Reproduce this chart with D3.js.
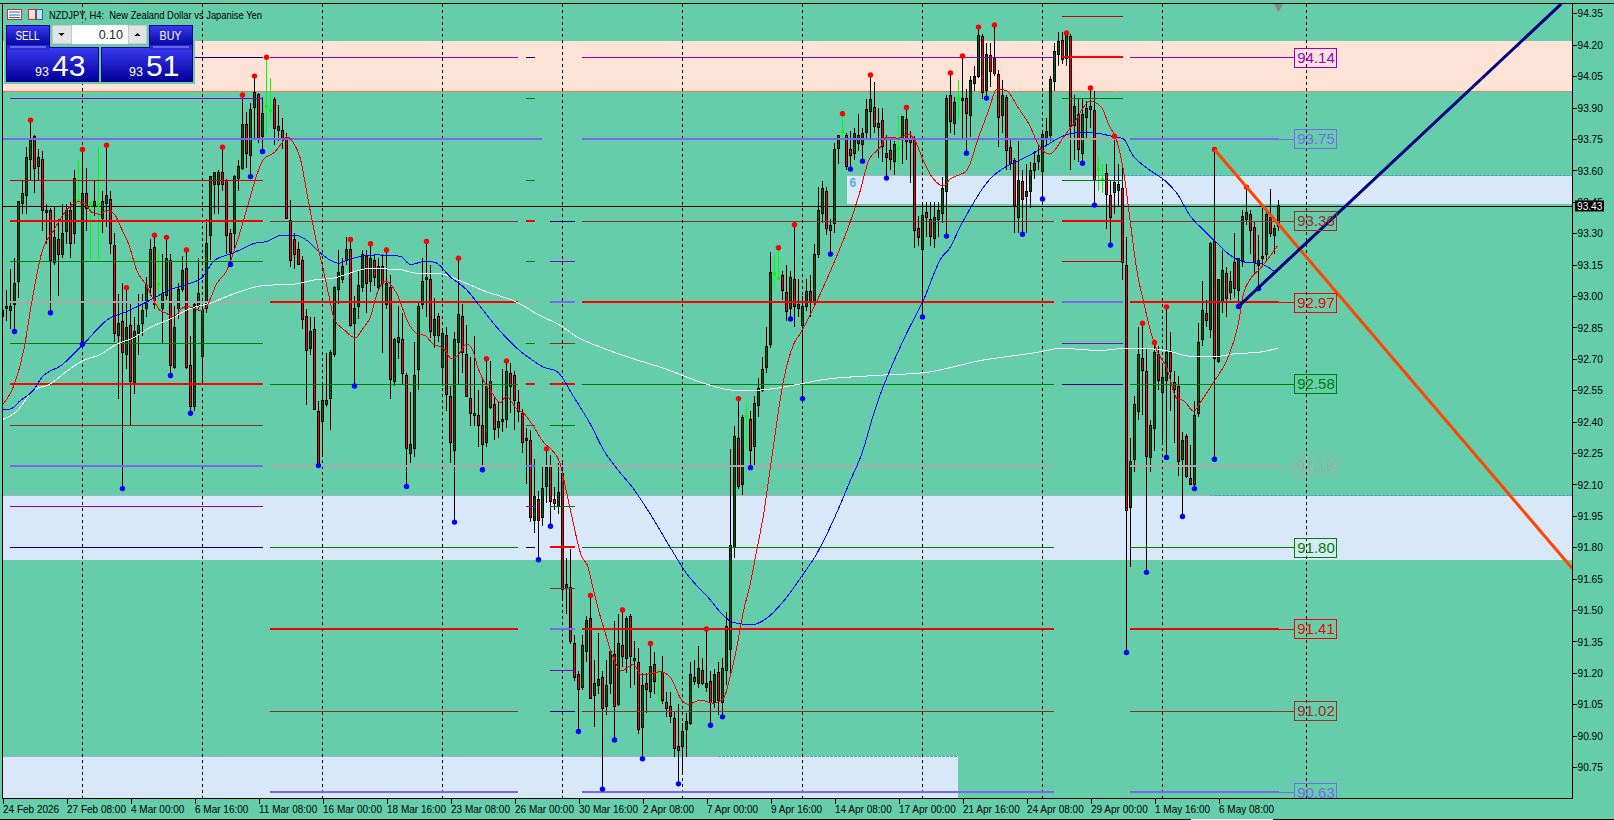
<!DOCTYPE html>
<html><head><meta charset="utf-8"><script src="https://cdn.jsdelivr.net/npm/d3@7"></script>
<style>html,body{margin:0;padding:0;background:#66cdaa;overflow:hidden}svg{display:block}text{font-family:"Liberation Sans",Arial,sans-serif}</style>
</head><body><svg id="c" width="1614" height="820"></svg><script>
const opens=[92.90,92.94,92.93,92.96,93.07,93.44,93.48,93.65,93.76,93.62,93.65,93.40,93.41,93.16,93.27,93.20,93.31,93.41,93.30,93.45,92.78,93.49,93.43,93.43,93.43,93.37,93.44,93.46,93.24,92.81,92.88,92.72,92.86,92.58,92.82,92.87,92.94,93.04,93.23,93.05,92.94,93.00,93.17,92.66,92.94,93.03,93.13,92.67,92.47,92.95,92.71,92.94,93.29,93.53,93.53,93.59,93.55,93.30,93.30,93.56,93.61,93.82,93.67,93.90,93.96,93.76,93.90,93.88,93.94,93.79,93.79,93.75,93.36,93.27,93.22,93.17,92.90,92.75,92.84,92.45,92.40,92.48,92.51,92.72,93.03,93.08,93.17,93.22,92.87,92.95,93.04,93.19,93.07,93.17,93.04,93.14,92.96,93.04,92.59,92.78,
92.79,92.62,92.25,92.27,92.65,92.96,93.08,93.08,92.81,92.90,92.66,92.81,92.52,92.26,92.78,92.90,92.72,92.51,92.43,92.43,92.38,92.30,92.59,92.48,92.37,92.40,92.41,92.63,92.62,92.49,92.44,92.31,92.31,91.93,92.03,91.94,92.09,92.19,92.03,92.00,92.15,91.605,91.61,91.34,91.19,91.13,91.30,91.46,91.09,91.14,91.18,91.04,91.15,91.29,91.05,91.33,91.27,91.47,91.27,91.25,90.94,91.15,91.11,91.24,91.20,91.20,91.06,91.04,90.98,90.85,90.85,90.93,90.96,91.18,91.15,91.21,91.13,91.16,91.06,91.20,91.06,91.21,91.31,91.80,92.32,92.10,92.42,92.41,92.28,92.475,92.55,92.66,92.77,93.10,93.08,93.10,93.017,92.94,93.08,92.94,
92.86,92.95,93.02,92.98,93.20,93.395,93.50,93.315,93.345,93.705,93.78,93.765,93.70,93.68,93.765,93.725,93.78,93.88,93.90,93.805,93.837,93.66,93.696,93.64,93.70,93.754,93.845,93.754,93.754,93.32,93.22,93.397,93.367,93.275,93.367,93.395,93.50,93.956,93.824,93.94,93.945,93.945,93.86,94.015,94.05,94.238,93.98,94.147,94.134,94.056,93.86,93.948,93.708,93.646,93.375,93.545,93.475,93.50,93.60,93.64,93.593,93.745,93.765,94.025,94.152,94.222,94.136,94.238,93.813,93.869,93.68,93.853,93.904,93.885,93.60,93.55,93.587,93.478,93.494,93.505,93.515,93.147,91.99,92.22,92.447,92.70,92.64,92.227,92.366,92.72,92.538,92.595,92.73,92.586,92.57,92.22,92.33,92.13,92.10,92.44,
92.79,92.916,92.84,93.26,92.685,92.97,93.107,93.015,93.16,93.025,93.17,93.367,93.39,93.327,93.144,93.18,93.198,93.375,93.287,93.33];
const highs=[92.95,93.03,93.13,93.18,93.45,93.55,93.71,93.84,93.77,93.70,93.69,93.44,93.42,93.43,93.37,93.44,93.44,93.45,93.60,93.65,93.70,93.61,93.45,93.55,93.71,93.50,93.72,93.50,93.30,93.01,93.06,93.04,92.96,92.90,93.01,93.01,93.09,93.27,93.29,93.22,93.20,93.28,93.20,92.95,93.06,93.19,93.22,92.81,92.97,93.18,92.95,93.37,93.57,93.59,93.60,93.71,93.56,93.32,93.58,93.65,93.96,93.88,93.92,94.05,93.97,93.95,94.14,94.04,93.95,93.91,93.85,93.78,93.46,93.30,93.26,93.19,92.94,92.90,92.90,92.50,92.59,92.73,92.74,93.05,93.22,93.18,93.28,93.27,93.00,93.12,93.22,93.22,93.25,93.20,93.18,93.20,93.22,93.10,92.80,92.95,
92.92,92.63,92.54,92.78,92.97,93.18,93.26,93.15,92.99,92.92,92.84,92.85,92.57,92.83,93.18,92.96,92.86,92.71,92.81,92.55,92.61,92.70,92.69,92.52,92.50,92.65,92.69,92.68,92.64,92.55,92.46,92.37,92.36,92.22,92.07,92.19,92.27,92.24,92.09,92.20,92.20,91.75,91.79,91.38,91.21,91.38,91.47,91.57,91.26,91.39,91.21,91.26,91.31,91.45,91.48,91.50,91.47,91.48,91.35,91.32,91.20,91.20,91.34,91.30,91.21,91.28,91.11,91.11,91.02,91.05,90.96,91.01,91.25,91.26,91.33,91.27,91.41,91.21,91.22,91.25,91.27,91.49,92.27,92.38,92.51,92.43,92.49,92.45,92.52,92.61,92.71,92.85,93.21,93.20,93.23,93.12,93.15,93.12,93.34,93.08,
93.00,93.08,93.10,93.25,93.52,93.55,93.52,93.37,93.73,93.77,93.87,93.78,93.79,93.80,93.87,93.80,93.94,94.055,94.02,93.90,93.90,93.77,93.75,93.74,93.865,93.856,93.90,93.79,93.765,93.38,93.45,93.45,93.45,93.45,93.45,93.57,93.96,94.065,93.95,94.03,94.146,93.99,94.05,94.10,94.284,94.25,94.21,94.21,94.294,94.08,94.03,93.96,93.75,93.66,93.74,93.60,93.63,93.64,93.69,93.72,93.78,93.85,94.05,94.21,94.26,94.26,94.256,94.25,93.96,93.94,93.94,93.93,93.993,93.98,93.67,93.63,93.63,93.55,93.763,93.63,93.62,93.283,92.32,92.52,92.85,92.87,92.75,92.41,92.778,92.76,92.68,92.948,92.83,92.64,92.62,92.35,92.34,92.29,92.50,92.87,
93.07,92.98,93.26,93.70,93.08,93.22,93.14,93.12,93.30,93.18,93.41,93.52,93.41,93.36,93.29,93.42,93.40,93.51,93.34,93.46];
const lows=[92.78,92.88,92.84,92.83,92.99,93.39,93.39,93.55,93.49,93.55,93.31,93.25,92.92,93.15,93.00,93.18,93.25,93.18,93.25,93.45,92.77,93.31,93.16,93.38,93.16,93.30,93.33,93.20,92.78,92.51,92.08,92.65,92.38,92.53,92.72,92.81,92.90,93.00,92.94,92.93,92.77,92.98,92.62,92.65,92.89,93.02,92.65,92.44,92.45,92.93,92.59,92.92,93.17,93.39,93.39,93.50,93.20,93.15,93.22,93.50,93.60,93.61,93.57,93.75,93.73,93.69,93.77,93.84,93.72,93.74,93.70,93.37,93.14,93.13,93.15,92.84,92.48,92.72,92.46,92.19,92.24,92.47,92.36,92.71,92.96,93.06,93.15,92.85,92.57,92.89,93.02,92.92,93.02,93.05,93.03,92.73,92.94,92.51,92.57,92.70,
92.58,92.09,92.20,92.23,92.55,92.94,92.90,92.80,92.75,92.78,92.57,92.45,92.20,91.92,92.58,92.63,92.52,92.38,92.38,92.28,92.17,92.28,92.46,92.31,92.32,92.35,92.37,92.44,92.36,92.40,92.25,92.10,91.92,91.87,91.74,91.90,92.01,91.90,91.98,91.96,91.55,91.48,91.34,91.16,90.92,91.12,91.25,91.08,90.94,91.10,90.645,91.00,91.10,90.88,91.04,91.23,91.20,91.13,91.14,90.91,90.79,91.01,91.08,91.10,91.06,91.05,90.99,90.96,90.80,90.67,90.71,90.80,90.95,91.14,91.13,91.14,91.11,90.95,91.03,91.00,90.99,91.14,91.18,91.75,92.08,92.05,92.27,92.18,92.19,92.42,92.54,92.63,92.75,93.03,93.08,92.98,92.88,92.89,92.85,92.90,
92.51,92.93,92.90,92.95,93.18,93.35,93.29,93.20,93.30,93.63,93.75,93.60,93.606,93.65,93.69,93.644,93.75,93.75,93.78,93.66,93.64,93.563,93.60,93.58,93.62,93.63,93.65,93.54,93.23,93.24,92.90,93.28,93.24,93.23,93.28,93.35,93.286,93.78,93.77,93.85,93.75,93.682,93.76,93.98,94.04,93.94,93.945,94.0,94.05,93.71,93.78,93.60,93.60,93.30,93.30,93.295,93.30,93.42,93.56,93.60,93.463,93.72,93.74,93.98,94.10,94.11,94.10,93.60,93.65,93.64,93.634,93.75,93.80,93.434,93.50,93.49,93.32,93.243,93.39,93.43,93.076,91.297,91.707,92.16,92.41,92.43,91.68,92.16,92.26,92.55,92.30,92.229,92.45,92.30,92.14,91.947,92.13,92.10,92.08,92.42,
92.76,92.85,92.80,92.22,92.68,92.92,92.90,92.98,92.99,92.95,93.14,93.34,93.20,93.10,93.036,93.15,93.16,93.28,93.20,93.31];
const closes=[92.93,92.95,92.95,93.06,93.45,93.49,93.66,93.75,93.61,93.66,93.41,93.41,93.17,93.28,93.20,93.30,93.41,93.25,93.56,93.46,93.49,93.42,93.44,93.45,93.44,93.45,93.48,93.25,92.82,92.87,92.73,92.85,92.59,92.83,92.86,92.93,93.05,93.22,92.96,93.06,93.01,93.18,92.67,92.85,93.03,93.12,92.66,92.47,92.96,93.01,92.93,93.25,93.57,93.59,93.59,93.53,93.29,93.21,93.57,93.62,93.82,93.68,93.89,93.97,93.75,93.87,93.91,93.89,93.80,93.81,93.75,93.37,93.17,93.20,93.15,92.89,92.74,92.83,92.46,92.19,92.50,92.50,92.73,93.04,93.11,93.14,93.22,92.86,92.94,93.05,93.20,93.06,93.18,93.09,93.14,93.06,93.06,92.60,92.79,92.80,
92.63,92.27,92.29,92.62,92.95,93.07,93.09,92.83,92.89,92.81,92.82,92.53,92.30,92.79,92.91,92.73,92.52,92.44,92.44,92.38,92.29,92.57,92.465,92.36,92.40,92.41,92.64,92.57,92.50,92.45,92.30,92.32,91.94,92.04,91.93,92.08,92.18,92.02,92.01,92.06,91.60,91.62,91.35,91.18,91.12,91.33,91.45,91.08,91.15,91.17,91.03,91.14,91.30,91.04,91.34,91.28,91.46,91.28,91.26,90.93,91.14,91.12,91.23,91.16,91.21,91.07,91.03,90.99,90.84,90.83,90.92,90.97,91.19,91.16,91.22,91.15,91.15,91.06,91.19,91.07,91.22,91.42,91.81,92.33,92.09,92.42,92.43,92.26,92.485,92.56,92.65,92.76,93.11,93.11,93.09,93.025,92.925,93.09,92.95,92.96,
92.95,93.02,92.98,93.20,93.41,93.515,93.32,93.335,93.70,93.765,93.79,93.62,93.67,93.775,93.73,93.775,93.89,93.937,93.81,93.825,93.712,93.68,93.654,93.725,93.71,93.856,93.737,93.733,93.314,93.28,93.385,93.375,93.283,93.375,93.407,93.515,93.945,93.834,93.926,93.95,93.932,93.87,94.028,94.047,94.246,93.972,94.155,94.072,94.063,93.853,93.956,93.697,93.633,93.434,93.553,93.46,93.498,93.598,93.635,93.673,93.773,93.785,94.036,94.166,94.214,94.127,94.25,93.808,93.904,93.70,93.869,93.893,93.89,93.55,93.61,93.56,93.486,93.375,93.542,93.534,93.16,91.977,92.21,92.48,92.72,92.646,92.235,92.38,92.73,92.595,92.61,92.73,92.638,92.554,92.208,92.312,92.137,92.10,92.43,92.78,
92.93,92.885,93.25,92.70,93.08,93.12,92.988,93.07,93.036,93.18,93.38,93.40,93.315,93.16,93.17,93.19,93.39,93.30,93.32,93.43];
const limeBars=[19,22,24,39,66,67,164,186,193,194,210,224,239,274,275];
const redDots=[7,20,26,31,38,41,46,55,60,63,66,87,92,96,106,114,121,126,136,147,155,162,176,184,194,198,210,217,226,237,240,244,248,266,272,278,285,288,291,303,311];
const blueDots=[3,12,20,30,42,47,57,62,65,79,88,101,113,120,134,137,144,150,153,160,169,177,180,187,197,200,207,212,215,221,230,236,241,246,255,260,270,273,277,281,286,291,295,298,303,309,314];
const separators=[20,50,80,110,140,170,200,230,260,290,326];
const maRedX=[0,3,5.3,7.4,10,12.7,15.2,17,19,20.7,22.3,24.4,26,28,29.8,31.5,33.6,36,37.8,39.4,40.7,42.7,44.8,46,48,49.8,51,53.6,56,58,59.8,61.9,63.6,65.2,68.2,69.8,71,72.8,74.4,76.5,78.6,79.8,81.5,83,85.3,88.2,90.3,92,93.6,96,98.6,101.5,103.6,105.7,107.7,110.2,112.3,114,116,117.3,119,120.7,122.3,124.4,126,128.6,130.3,132.8,135.3,137.3,139.4,140.7,142.3,144.8,146.3,147.7,149,150.7,152.3,154.8,157.7,159.8,161.5,164.4,166.9,169.8,171.5,174.4,177.75,180.3,181.9,183.6,185.3,187,188.6,190.3,192,195.3,197.8,199.4,209.2,211.5,214.4,216.5,219.4,221,224,226.5,228.2,230.2,232.7,235.2,236.9,241,244,246.5,248.6,251,253.9,256.9,258.9,261.8,265.2,267.7,271.9,274.8,276.5,278.6,280.25,281.9,283.6,285.3,286.9,288.6,291,293.6,295.3,297.8,299.4,302.7,306.1,309,310.25,311.9,314.4,316.1,318.75];
const maRedY=[92.48,92.58,92.74,92.98,93.22,93.31,93.39,93.43,93.45,93.44,93.40,93.39,93.41,93.39,93.32,93.25,93.12,93.05,92.98,92.93,92.92,92.90,92.94,92.95,92.94,92.93,92.95,93.06,93.12,93.22,93.33,93.47,93.58,93.65,93.69,93.73,93.76,93.73,93.66,93.45,93.25,93.16,93.01,92.885,92.84,92.80,92.85,92.90,93.01,93.07,93.01,92.87,92.82,92.81,92.77,92.75,92.70,92.72,92.77,92.75,92.65,92.58,92.54,92.49,92.52,92.46,92.44,92.375,92.30,92.265,92.20,92.09,91.95,91.755,91.71,91.60,91.50,91.39,91.29,91.21,91.24,91.19,91.195,91.205,91.18,91.07,91.05,91.07,91.055,91.08,91.18,91.325,91.50,91.63,91.79,91.96,92.185,92.60,92.77,92.82,93.22,93.33,93.50,93.645,93.71,93.757,93.754,93.773,93.74,93.646,93.56,93.526,93.558,93.598,93.757,93.885,93.988,93.98,93.90,93.81,93.725,93.677,93.757,93.82,93.93,93.90,93.82,93.74,93.60,93.36,93.12,92.97,92.84,92.74,92.66,92.51,92.50,92.45,92.49,92.586,92.694,92.87,93.01,93.08,93.13,93.17,93.24];
const maBlueX=[0,1.9,4.4,7.75,9.8,14.8,19.75,26.5,31,36.9,41.9,46.9,49.75,53,56.9,59.4,62.75,66,69.8,73,76.5,78.6,82,84,86,89.8,93.6,99.4,102,105.7,108.2,112,116,119,123.6,128.6,132.75,135.25,138.6,142.75,146.9,150.4,153.2,157.7,161.9,166.9,171,176.9,179.9,182.75,187.3,191,195.6,199.75,203.6,207.75,212,214.9,218,226,230,235,236.5,239.4,242.3,245.25,247.75,250.25,254.4,259.4,261.9,265.2,269,272.3,276.9,280.25,282.3,286.9,290.7,293.6,297,300.25,303.2,306.9,311,314.4,317.75];
const maBlueY=[92.46,92.46,92.50,92.55,92.61,92.67,92.76,92.89,92.925,92.98,93.03,93.06,93.085,93.17,93.20,93.22,93.25,93.26,93.29,93.29,93.26,93.22,93.17,93.156,93.17,93.19,93.196,93.19,93.15,93.166,93.16,93.09,93.03,92.96,92.85,92.75,92.69,92.66,92.64,92.52,92.39,92.26,92.185,92.08,91.96,91.80,91.675,91.55,91.48,91.44,91.43,91.46,91.55,91.66,91.77,91.93,92.12,92.25,92.45,92.82,92.97,93.19,93.22,93.33,93.43,93.52,93.575,93.61,93.65,93.70,93.73,93.765,93.78,93.78,93.765,93.75,93.68,93.60,93.55,93.49,93.38,93.315,93.26,93.195,93.16,93.155,93.12];
const maWhiteX=[0,3.6,7.75,12,16,20,24.4,28.6,32.75,36.9,41.9,46.9,51.9,57.75,65.25,72.75,78.2,82.75,87,91,99.4,102.8,109.9,114,120.3,128.6,134,139.4,143.6,150.25,157.75,166,174.3,182.75,188.5,193.6,199.4,205,218,231,244,259.4,264.4,274.4,280.7,284.4,290.7,297.75,302.7,308.6,313.6,318.75];
const maWhiteY=[92.41,92.45,92.55,92.58,92.64,92.69,92.72,92.77,92.80,92.85,92.89,92.94,92.965,93.01,93.05,93.056,93.077,93.085,93.11,93.13,93.127,93.11,93.105,93.076,93.025,92.97,92.91,92.86,92.805,92.75,92.70,92.65,92.59,92.55,92.55,92.56,92.58,92.60,92.62,92.635,92.69,92.733,92.75,92.74,92.75,92.75,92.74,92.71,92.71,92.725,92.73,92.75];
const levelPrices=[94.14,93.75,93.36,92.97,92.58,92.19,91.80,91.41,91.02,90.63];
const levelLabelColors=["#9400d3","#7b68ee","#a52a2a","#ff0000","#008000","#a9a9a9","#008000","#ff0000","#a52a2a","#7b68ee"];
const levelStyles={p:["#8a00d0",1],s:["#7b68ee",2],b:["#8b3030",1],r:["#ff0000",2],g:["#008000",1],y:["#a9a9a9",2],n:["#000080",1],d:["#d00000",1]};
const blocks=[
 {x:[0,134.9],rows:[[93.75,"s"]]},
 {x:[1.9,65],rows:[[94.14,"n"],[93.945,"p"],[93.555,"d"],[93.36,"r"],[93.165,"g"],[92.97,"y"],[92.775,"g"],[92.58,"r"],[92.385,"b"],[92.19,"s"],[91.995,"p"],[91.80,"n"]]},
 {x:[66.9,128.9],rows:[[94.14,"p"],[93.36,"b"],[92.97,"r"],[92.58,"g"],[92.19,"y"],[91.80,"g"],[91.41,"r"],[91.02,"b"],[90.63,"s"]]},
 {x:[130.9,133.1],rows:[[94.14,"n"],[93.945,"g"],[93.555,"g"],[93.36,"r"],[93.165,"g"],[92.97,"y"],[92.775,"g"],[92.58,"r"],[92.385,"b"],[92.19,"s"],[91.995,"p"],[91.80,"n"]]},
 {x:[136.9,143.1],rows:[[93.36,"n"],[93.165,"p"],[92.97,"s"],[92.775,"b"],[92.58,"r"],[92.385,"g"],[91.995,"g"],[91.80,"r"],[91.605,"b"],[91.41,"s"],[91.215,"p"],[91.02,"n"]]},
 {x:[134.9,262.9],rows:[[92.19,"y"]]},
 {x:[144.9,262.9],rows:[[94.14,"p"],[93.75,"s"],[93.36,"b"],[92.97,"r"],[92.58,"g"],[91.80,"g"],[91.41,"r"],[91.02,"b"],[90.63,"s"]]},
 {x:[264.9,280.2],rows:[[94.335,"d"],[94.14,"r"],[93.945,"g"],[93.75,"y"],[93.555,"g"],[93.36,"r"],[93.165,"d"],[92.97,"s"],[92.775,"p"],[92.58,"n"]]},
 {x:[281.9,319],rows:[[94.14,"p"],[93.75,"s"],[93.36,"b"],[92.97,"r"],[92.58,"g"],[92.19,"y"],[91.80,"g"],[91.41,"r"],[91.02,"b"],[90.63,"s"]]}
];
const zonePrices=[[94.218,93.977],[93.574,93.44],[92.047,91.739],[90.802,90.60]];
const zoneFrom=[0,211,0,0];
const zoneTo=[392.4,392.4,392.4,238.9];
const zoneDashFrom=[277.5,272,301.8,178.8];
const zoneEdgeColors=["#ff7f50","#4aa3df","#4aa3df","#4aa3df"];
const priceTicks=[94.35,94.20,94.05,93.90,93.75,93.60,93.45,93.30,93.15,93.00,92.85,92.70,92.55,92.40,92.25,92.10,91.95,91.80,91.65,91.50,91.35,91.20,91.05,90.90,90.75];
const timeTicks=d3.range(0,320,16);
const timeLabels=["24 Feb 2026","27 Feb 08:00","4 Mar 00:00","6 Mar 16:00","11 Mar 08:00","16 Mar 00:00","18 Mar 16:00","23 Mar 08:00","26 Mar 00:00","30 Mar 16:00","2 Apr 08:00","7 Apr 00:00","9 Apr 16:00","14 Apr 08:00","17 Apr 00:00","21 Apr 16:00","24 Apr 08:00","29 Apr 00:00","1 May 16:00","6 May 08:00"];
const bid=93.43;
const trendOrange=[[303,93.70],[392.4,91.70]];
const trendNavy=[[309,92.95],[389.7,94.395]];

const W=1614,L=2.5,R=1572.5,T=3.5,B=798.5;
const x=d3.scaleLinear().domain([0,319]).range([2.5,1278.5]);
const y=d3.scaleLinear().domain([94.35,90.75]).range([13.3,767.1]);
const narrow=(sel,f)=>sel.each(function(){const n=this.getComputedTextLength();d3.select(this).attr("textLength",n*f).attr("lengthAdjust","spacingAndGlyphs");});
const svg=d3.select("#c");
const defs=svg.append("defs");
defs.append("clipPath").attr("id","plot").append("rect").attr("x",L).attr("y",T).attr("width",R-L).attr("height",B-T);
const grad=defs.append("linearGradient").attr("id","pbg").attr("x1",0).attr("x2",0).attr("y1",0).attr("y2",1);
grad.append("stop").attr("offset",0).attr("stop-color","#3a3af0");grad.append("stop").attr("offset",1).attr("stop-color","#00009a");
svg.append("rect").attr("width",W).attr("height",820).attr("fill","#66cdaa");
const plot=svg.append("g").attr("clip-path","url(#plot)");

// zones
const zoneFill=["#fde3d6","#d9e8f8","#d9e8f8","#d9e8f8"];
zonePrices.forEach((z,k)=>{
  plot.append("rect").attr("x",x(zoneFrom[k])).attr("y",y(z[0])).attr("width",x(zoneTo[k])-x(zoneFrom[k])).attr("height",y(z[1])-y(z[0])).attr("fill",zoneFill[k]).attr("shape-rendering","crispEdges");
  const ey=k==0?y(z[1]):y(z[0]);
  plot.append("line").attr("x1",x(zoneFrom[k])).attr("x2",x(zoneDashFrom[k])).attr("y1",ey).attr("y2",ey).attr("stroke",k==0?"#f07848":"#9db5c5").attr("stroke-width",1).attr("shape-rendering","crispEdges");
  plot.append("line").attr("x1",x(zoneDashFrom[k])).attr("x2",x(zoneTo[k])).attr("y1",ey).attr("y2",ey).attr("stroke",zoneEdgeColors[k]).attr("stroke-dasharray","3,1").attr("stroke-width",1).attr("shape-rendering","crispEdges");
});
plot.append("text").attr("x",x(211)+3).attr("y",y(93.52)).attr("fill","#5aa9e6").attr("font-size",12).attr("font-weight","bold").text("6");

// session separators
plot.selectAll(".sep").data(separators).join("line").attr("x1",d=>x(d)).attr("x2",d=>x(d)).attr("y1",T).attr("y2",B).attr("stroke","#000").attr("stroke-dasharray","3,3").attr("shape-rendering","crispEdges");

// bid line
plot.append("line").attr("x1",L).attr("x2",R).attr("y1",Math.round(y(bid))+.5).attr("y2",Math.round(y(bid))+.5).attr("stroke","#000");

// candles
const idx=d3.range(opens.length);
const limeSet=new Set(limeBars);
const cg=plot.append("g").attr("shape-rendering","crispEdges");
cg.selectAll(".wick").data(idx).join("line").attr("x1",d=>x(d)).attr("x2",d=>x(d)).attr("y1",d=>y(highs[d])).attr("y2",d=>y(lows[d])).attr("stroke",d=>limeSet.has(d)?"#00ff00":"#000");
cg.selectAll(".body").data(idx).join("rect")
  .attr("x",d=>x(d)-1).attr("width",2)
  .attr("y",d=>y(Math.max(opens[d],closes[d])))
  .attr("height",d=>Math.max(1,Math.abs(y(opens[d])-y(closes[d]))))
  .attr("fill",d=>limeSet.has(d)?"#00ff00":closes[d]>=opens[d]?"#006400":"#ff0000")
  .attr("stroke",d=>limeSet.has(d)?"#00ff00":"#000").attr("stroke-width",1);

// levels
const lg=plot.append("g").attr("shape-rendering","crispEdges");
blocks.forEach(b=>b.rows.forEach(r=>{
  const s=levelStyles[r[1]];
  const ly=s[1]%2?Math.round(y(r[0]))+.5:Math.round(y(r[0]));
  lg.append("line").attr("x1",x(b.x[0])).attr("x2",x(b.x[1])).attr("y1",ly).attr("y2",ly).attr("stroke",s[0]).attr("stroke-width",s[1]);
}));

// moving averages
const line=d3.line().x(d=>x(d[0])).y(d=>y(d[1]));
const smooth=d3.line().curve(d3.curveMonotoneX).x(d=>x(d[0])).y(d=>y(d[1]));
const zipPts=(a,b)=>a.map((v,i)=>[v,b[i]]);
[[maWhiteX,maWhiteY,"#fff"],[maBlueX,maBlueY,"#0000ff"],[maRedX,maRedY,"#ff0000"]].forEach(m=>{
  plot.append("path").attr("d",smooth(zipPts(m[0],m[1]))).attr("fill","none").attr("stroke",m[2]).attr("stroke-width",1).attr("shape-rendering","crispEdges");
});

// fractal dots
plot.selectAll(".rd").data(redDots).join("circle").attr("cx",d=>x(d)).attr("cy",d=>y(highs[d])).attr("r",2.7).attr("fill","#ff0000");
plot.selectAll(".bd").data(blueDots).join("circle").attr("cx",d=>x(d)).attr("cy",d=>y(lows[d])).attr("r",2.7).attr("fill","#0000ff");

// trend lines
plot.append("path").attr("d",line(trendOrange)).attr("stroke","#ff4500").attr("stroke-width",3).attr("fill","none");
plot.append("path").attr("d",line(trendNavy)).attr("stroke","#000080").attr("stroke-width",3).attr("fill","none");

// level labels
const lx=x(319),bx=1294,bw=42,bh=19;
levelPrices.forEach((p,k)=>{
  const c=levelLabelColors[k],py=y(p);
  plot.append("line").attr("x1",lx).attr("x2",bx).attr("y1",Math.round(py)+.5).attr("y2",Math.round(py)+.5).attr("stroke",c).attr("shape-rendering","crispEdges");
  plot.append("rect").attr("x",bx+.5).attr("y",Math.round(py-bh/2)+.5).attr("width",bw).attr("height",bh).attr("fill","none").attr("stroke",c).attr("shape-rendering","crispEdges");
  plot.append("text").attr("x",bx+bw/2+1).attr("y",py+5.5).attr("text-anchor","middle").attr("font-size",15).attr("fill",c).text(p.toFixed(2));
});

// current bar marker
plot.append("path").attr("d",d3.symbol().type(d3.symbolTriangle).size(45)()).attr("transform",`translate(${x(319)},6) rotate(180)`).attr("fill","#888");

// frame + axes
const frame=svg.append("g").attr("shape-rendering","crispEdges");
frame.append("line").attr("x1",0).attr("x2",W).attr("y1",T).attr("y2",T).attr("stroke","#000");
frame.append("line").attr("x1",L).attr("x2",L).attr("y1",T).attr("y2",B).attr("stroke","#000");
frame.append("line").attr("x1",0).attr("x2",W).attr("y1",819.5).attr("y2",819.5).attr("stroke","#000");
frame.append("line").attr("x1",1191).attr("x2",1273).attr("y1",819.5).attr("y2",819.5).attr("stroke","#fff");

const yAxis=d3.axisRight(y).tickValues(priceTicks).tickFormat(d3.format(".2f")).tickSize(4).tickPadding(1);
const ga=svg.append("g").attr("transform",`translate(${R},0)`).call(yAxis);
ga.select(".domain").attr("d",`M0,${T}V${B}`).attr("stroke","#000").attr("shape-rendering","crispEdges");
ga.selectAll("line").attr("stroke","#000").attr("shape-rendering","crispEdges");
ga.selectAll("text").attr("font-size",11.5).attr("fill","#000").attr("font-family",'"Liberation Sans"').call(narrow,.88);

const xAxis=d3.axisBottom(x).tickValues(timeTicks).tickFormat((d,i)=>timeLabels[i]).tickSize(5).tickPadding(1);
const gx=svg.append("g").attr("transform",`translate(0,${B})`).call(xAxis);
gx.select(".domain").attr("d",`M${L},0H${R}`).attr("stroke","#000").attr("shape-rendering","crispEdges");
gx.selectAll("line").attr("stroke","#000").attr("shape-rendering","crispEdges");
gx.selectAll("text").attr("font-size",11.5).attr("fill","#000").attr("text-anchor","start").attr("x",0).attr("font-family",'"Liberation Sans"').call(narrow,.87);

// bid tag
svg.append("rect").attr("x",1575).attr("y",y(bid)-5.5).attr("width",29).attr("height",11).attr("fill","#000");
svg.append("text").attr("x",1577).attr("y",y(bid)+4).attr("font-size",11.5).attr("fill","#fff").text(bid.toFixed(2)).call(narrow,.88);

// header
const head=svg.append("g");
head.append("rect").attr("x",7.5).attr("y",9.5).attr("width",14).attr("height",10).attr("fill","#fff").attr("stroke","#d03030");
[12,15,17.5].forEach(v=>head.append("line").attr("x1",9).attr("x2",20).attr("y1",v).attr("y2",v).attr("stroke","#3060c0"));
head.append("rect").attr("x",28.5).attr("y",9.5).attr("width",7).attr("height",10).attr("fill","#fde0d8").attr("stroke","#d03030");
head.append("rect").attr("x",36.5).attr("y",9.5).attr("width",6).attr("height",10).attr("fill","#cfe0f0").attr("stroke","#2a6a9a");
head.append("text").attr("x",49).attr("y",18.5).attr("font-size",11.5).attr("fill","#000").text("NZDJPY, H4:\u00a0\u00a0New Zealand Dollar vs Japanise Yen").attr("textLength",213).attr("lengthAdjust","spacingAndGlyphs");

// trade panel
const panel=svg.append("g");
panel.append("rect").attr("x",4).attr("y",23).attr("width",191).attr("height",61).attr("fill","#66cdaa");
const pane=(px,py,pw,ph)=>panel.append("rect").attr("x",px+.5).attr("y",py+.5).attr("width",pw-1).attr("height",ph-1).attr("fill","url(#pbg)").attr("stroke","#000080").attr("shape-rendering","crispEdges");
pane(6,25,44,23);pane(149,25,44,23);pane(6,47,93,35);pane(101,47,92,35);
panel.append("rect").attr("x",7).attr("y",45).attr("width",42).attr("height",5).attr("fill","#2a2ad8");
panel.append("rect").attr("x",150).attr("y",45).attr("width",42).attr("height",5).attr("fill","#2a2ad8");
panel.append("line").attr("x1",10).attr("x2",46).attr("y1",47).attr("y2",47).attr("stroke","#a0a0f0");
panel.append("line").attr("x1",153).attr("x2",189).attr("y1",47).attr("y2",47).attr("stroke","#a0a0f0");
panel.append("text").attr("x",27.5).attr("y",40).attr("text-anchor","middle").attr("font-size",13).attr("fill","#fff").attr("textLength",24).attr("lengthAdjust","spacingAndGlyphs").text("SELL");
panel.append("text").attr("x",170.5).attr("y",40).attr("text-anchor","middle").attr("font-size",13).attr("fill","#fff").attr("textLength",22).attr("lengthAdjust","spacingAndGlyphs").text("BUY");
panel.append("rect").attr("x",52).attr("y",25).attr("width",95).attr("height",19).attr("fill","#fff");
panel.append("rect").attr("x",52.5).attr("y",25.5).attr("width",19).attr("height",18).attr("fill","#e4e4e4").attr("stroke","#c8c8c8");
panel.append("rect").attr("x",128.5).attr("y",25.5).attr("width",18).attr("height",18).attr("fill","#e4e4e4").attr("stroke","#c8c8c8");
panel.append("path").attr("d","M58.5,33h6l-3,3z").attr("fill","#000");
panel.append("path").attr("d","M134.5,36h6l-3,-3z").attr("fill","#000");
panel.append("text").attr("x",123).attr("y",39).attr("text-anchor","end").attr("font-size",12.5).attr("fill","#222").text("0.10");
panel.append("text").attr("x",49).attr("y",76).attr("text-anchor","end").attr("font-size",12.5).attr("fill","#fff").text("93");
panel.append("text").attr("x",52).attr("y",76).attr("font-size",30).attr("fill","#fff").text("43");
panel.append("text").attr("x",143).attr("y",76).attr("text-anchor","end").attr("font-size",12.5).attr("fill","#fff").text("93");
panel.append("text").attr("x",146).attr("y",76).attr("font-size",30).attr("fill","#fff").text("51");
</script></body></html>
